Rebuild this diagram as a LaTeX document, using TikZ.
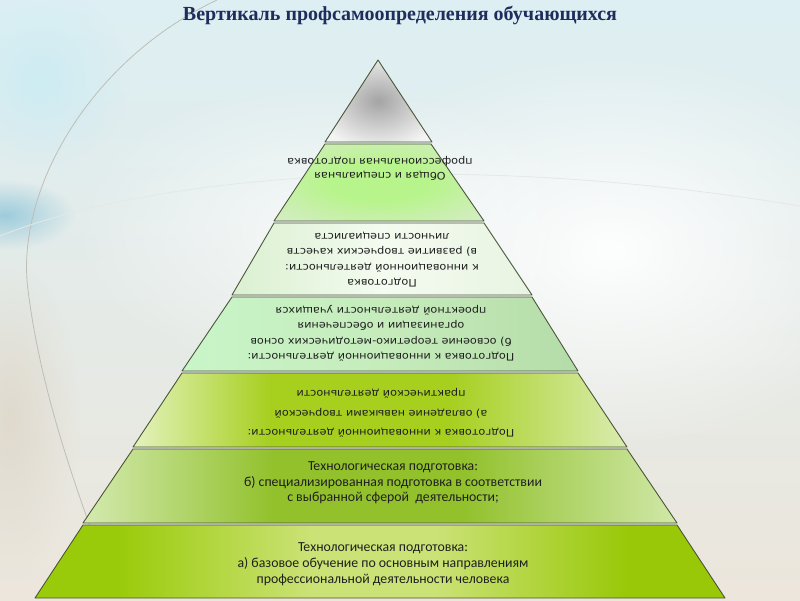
\documentclass[tikz,border=0pt]{standalone}
\usepackage{fontspec}
\setmainfont{Liberation Serif}
\newfontfamily\dvs[FakeStretch=1.09]{DejaVu Sans}
\newfontfamily\crl{Carlito}
\usetikzlibrary{fadings}
\tikzfading[name=softglow, inner color=transparent!0, outer color=transparent!100]
\definecolor{bandline}{HTML}{4A5638}
\definecolor{titlecol}{HTML}{1F2D5C}
\definecolor{bgtop}{HTML}{DDEFF3}
\definecolor{bgbot}{HTML}{ECE6DC}
\definecolor{bgblue}{HTML}{8CC4D8}
\definecolor{bgcyan}{HTML}{C8ECF4}
\definecolor{bgbeige}{HTML}{DED6C8}
\definecolor{arcgrey}{HTML}{BEBEB6}
\definecolor{arclight}{HTML}{E4E8E8}
\definecolor{tIn}{HTML}{A4A4A4}\definecolor{tOut}{HTML}{F4F4F4}
\definecolor{bIIin}{HTML}{B8F48C}\definecolor{bIIout}{HTML}{DCEAD4}
\definecolor{bIIIl}{HTML}{DAF0D0}\definecolor{bIIIm}{HTML}{F4FBF0}\definecolor{bIIIr}{HTML}{E8F4E2}
\definecolor{bIVl}{HTML}{C8F5C8}\definecolor{bIVm}{HTML}{C6ECBC}\definecolor{bIVr}{HTML}{B4DCA8}
\definecolor{bVl}{HTML}{E4F2BE}\definecolor{bVm}{HTML}{A6CF1E}\definecolor{bVr}{HTML}{DAECB0}
\definecolor{bVIl}{HTML}{D4EAB0}\definecolor{bVIm}{HTML}{92C12C}\definecolor{bVIr}{HTML}{D0E8A8}
\definecolor{bVIIl}{HTML}{9ACB0A}\definecolor{bVIIm}{HTML}{CBE276}\definecolor{bVIIr}{HTML}{98C808}
\pgfdeclarehorizontalshading{shIII}{100bp}{color(0bp)=(bIIIl); color(25bp)=(bIIIl); color(50bp)=(bIIIm); color(75bp)=(bIIIr); color(100bp)=(bIIIr)}
\pgfdeclarehorizontalshading{shIV}{100bp}{color(0bp)=(bIVl); color(25bp)=(bIVl); color(50bp)=(bIVm); color(75bp)=(bIVr); color(100bp)=(bIVr)}
\pgfdeclarehorizontalshading{shV}{100bp}{color(0bp)=(bVl); color(25bp)=(bVl); color(39bp)=(bVm); color(57bp)=(bVm); color(75bp)=(bVr); color(100bp)=(bVr)}
\pgfdeclarehorizontalshading{shVI}{100bp}{color(0bp)=(bVIl); color(25bp)=(bVIl); color(41bp)=(bVIm); color(57bp)=(bVIm); color(75bp)=(bVIr); color(100bp)=(bVIr)}
\pgfdeclarehorizontalshading{shVII}{100bp}{color(0bp)=(bVIIl); color(31bp)=(bVIIl); color(45bp)=(bVIIm); color(54bp)=(bVIIm); color(68bp)=(bVIIr); color(100bp)=(bVIIr)}
\pgfdeclareradialshading{shII}{\pgfpoint{0bp}{0bp}}{color(0bp)=(bIIin); color(12bp)=(bIIin); color(40bp)=(bIIout); color(50bp)=(bIIout)}
\pgfdeclareradialshading{shI}{\pgfpoint{0bp}{0bp}}{color(0bp)=(tIn); color(30bp)=(tOut); color(50bp)=(tOut)}
\begin{document}
\begin{tikzpicture}[x=1pt,y=-1pt,
  band/.style={draw=bandline, line width=0.9pt, line join=round, shading=#1},
  flip/.style={rotate=180, align=center, text=black!88, inner sep=0pt,
    font=\dvs\fontsize{10.3}{15.5}\selectfont},
  upright/.style={align=center, text=black!88, inner sep=0pt,
    font=\crl\fontsize{13.8}{16}\selectfont},
  bgline/.style={draw=#1, line width=0.8pt}
]
\useasboundingbox (0,0) rectangle (800,600);
% background
\shade[top color=bgtop, bottom color=bgbot] (0,0) rectangle (800,600);
\fill[white, path fading=softglow, opacity=0.95] (610,250) ellipse (300 and 200);
\fill[white, path fading=softglow, opacity=0.7] (330,230) ellipse (260 and 150);
\fill[bgblue, path fading=softglow, opacity=0.8] (5,215) ellipse (70 and 35);
\fill[bgcyan, path fading=softglow, opacity=0.8] (40,80) ellipse (90 and 90);
\fill[bgbeige, path fading=softglow, opacity=0.8] (10,420) ellipse (70 and 160);
\draw[bgline=arcgrey] (217,0) .. controls (90,60) and (15,190) .. (28,290) .. controls (38,370) and (62,450) .. (95,540);
\draw[bgline=arclight] (0,236) .. controls (150,176) and (450,148) .. (800,206);
% title
\node[font=\fontsize{20}{23}\selectfont\bfseries, text=titlecol] (title) at (400,15) {Вертикаль профсамоопределения обучающихся};
% pyramid
\shade[band=shI] (378,60) -- (432,142) -- (325,142) -- cycle;
\shade[band=shII] (325,144) -- (431,144) -- (484,221) -- (274,221) -- cycle;
\shade[band=shIII] (274,223) -- (484,223) -- (532,295) -- (232,295) -- cycle;
\shade[band=shIV] (232,297) -- (532,297) -- (578,371) -- (182,371) -- cycle;
\shade[band=shV] (182,373) -- (578,373) -- (627,447) -- (133,447) -- cycle;
\shade[band=shVI] (133,449) -- (627,449) -- (677,523) -- (83,523) -- cycle;
\shade[band=shVII] (83,525) -- (677,525) -- (725,598) -- (35,598) -- cycle;
% texts
\node[flip, font=\dvs\fontsize{10.3}{13.3}\selectfont] (t2) at (380,168.5) {Общая и специальная\\профессиональная подготовка};
\node[flip] (t3) at (382,259.5) {Подготовка\\к инновационной деятельности:\\в) развитие творческих качеств\\личности специалиста};
\node[flip] (t4) at (381,333.5) {Подготовка к инновационной деятельности:\\б) освоение теоретико-методических основ\\организации и обеспечения\\проектной деятельности учащихся};
\node[flip, font=\dvs\fontsize{10.3}{19.5}\selectfont] (t5) at (381,413) {Подготовка к инновационной деятельности:\\а) овладение навыками творческой\\практической деятельности};
\node[upright, font=\crl\fontsize{13.8}{15.5}\selectfont] (t6) at (393,483) {Технологическая подготовка:\\б) специализированная подготовка в соответствии\\с выбранной сферой\ \ деятельности;};
\node[upright] (t7) at (383,564) {Технологическая подготовка:\\а) базовое обучение по основным направлениям\\профессиональной деятельности человека};
\end{tikzpicture}
\end{document}
